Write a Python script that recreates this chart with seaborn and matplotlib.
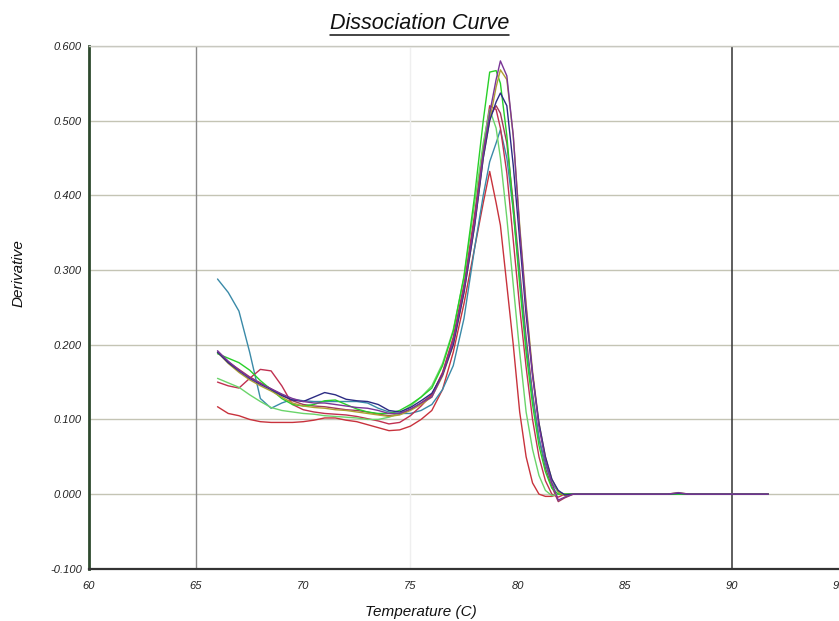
import numpy as np
import pandas as pd
import seaborn as sns
import matplotlib.pyplot as plt
from matplotlib.lines import Line2D

# ── Data ──────────────────────────────────────────────────────────────────────
temperature = [
    66.0, 66.5, 67.0, 67.5, 68.0, 68.5, 69.0, 69.5, 70.0, 70.5,
    71.0, 71.5, 72.0, 72.5, 73.0, 73.5, 74.0, 74.5, 75.0, 75.5,
    76.0, 76.5, 77.0, 77.5, 78.0, 78.4, 78.7, 79.0, 79.2, 79.5,
    79.8, 80.1, 80.4, 80.7, 81.0, 81.3, 81.6, 81.9, 82.2, 82.6,
    83.0, 84.0, 85.0, 86.0, 87.0, 87.5, 88.0, 89.0, 90.0, 91.0,
    91.7,
]

purple = [
    0.192, 0.178, 0.166, 0.156, 0.148, 0.141, 0.134, 0.128, 0.124, 0.122,
    0.122, 0.120, 0.118, 0.116, 0.115, 0.112, 0.108, 0.108, 0.114, 0.122,
    0.130, 0.160, 0.205, 0.275, 0.365, 0.455, 0.510, 0.555, 0.580, 0.560,
    0.480, 0.355, 0.250, 0.160, 0.090, 0.045, 0.015, -0.008, -0.004, 0.000,
    0.000, 0.000, 0.000, 0.000, 0.000, 0.002, 0.000, 0.000, 0.000, 0.000,
    0.000,
]
navy = [
    0.190, 0.176, 0.165, 0.155, 0.147, 0.140, 0.132, 0.126, 0.124, 0.130,
    0.136, 0.133, 0.127, 0.125, 0.124, 0.120, 0.112, 0.110, 0.116, 0.125,
    0.135, 0.160, 0.200, 0.270, 0.360, 0.450, 0.500, 0.525, 0.537, 0.520,
    0.440, 0.340, 0.240, 0.160, 0.095, 0.050, 0.020, 0.005, -0.001, 0.000,
    0.000, 0.000, 0.000, 0.000, 0.000, 0.001, 0.000, 0.000, 0.000, 0.000,
    0.000,
]
olive = [
    0.190, 0.175, 0.163, 0.153, 0.145, 0.138, 0.130, 0.122, 0.118, 0.116,
    0.115, 0.113, 0.112, 0.110, 0.108, 0.106, 0.104, 0.106, 0.112, 0.120,
    0.130, 0.158, 0.200, 0.270, 0.360, 0.450, 0.500, 0.545, 0.568, 0.555,
    0.480, 0.360, 0.255, 0.165, 0.095, 0.050, 0.020, 0.003, -0.002, 0.000,
    0.000, 0.000, 0.000, 0.000, 0.000, 0.002, 0.000, 0.000, 0.000, 0.000,
    0.000,
]
green_a = [
    0.188, 0.182, 0.176, 0.166, 0.152, 0.140, 0.128, 0.120, 0.118, 0.120,
    0.125, 0.126, 0.120, 0.114, 0.110, 0.108, 0.108, 0.112, 0.120, 0.130,
    0.142, 0.172, 0.218, 0.292, 0.400, 0.500, 0.565, 0.567, 0.550, 0.480,
    0.380, 0.280, 0.190, 0.120, 0.065, 0.030, 0.008, 0.000, 0.000, 0.000,
    0.000, 0.000, 0.000, 0.000, 0.000, 0.000, 0.000, 0.000, 0.000, 0.000,
    0.000,
]
green_b = [
    0.155, 0.149, 0.143, 0.133, 0.124, 0.116, 0.112, 0.110, 0.108, 0.107,
    0.105, 0.104, 0.103, 0.102, 0.100, 0.100, 0.103, 0.108, 0.118, 0.130,
    0.145, 0.175, 0.220, 0.290, 0.390, 0.470, 0.515, 0.490, 0.450, 0.370,
    0.280, 0.190, 0.110, 0.060, 0.025, 0.005, -0.002, 0.000, 0.000, 0.000,
    0.000, 0.000, 0.000, 0.000, 0.000, 0.000, 0.000, 0.000, 0.000, 0.000,
    0.000,
]
crimson = [
    0.150, 0.145, 0.142, 0.155, 0.167, 0.165, 0.145, 0.120, 0.113, 0.110,
    0.108, 0.107, 0.106, 0.104, 0.101, 0.098, 0.094, 0.096, 0.105, 0.118,
    0.133, 0.163, 0.210, 0.280, 0.375, 0.465, 0.520, 0.515, 0.490, 0.430,
    0.340, 0.250, 0.170, 0.100, 0.050, 0.018, 0.000, -0.004, 0.000, 0.000,
    0.000, 0.000, 0.000, 0.000, 0.000, 0.000, 0.000, 0.000, 0.000, 0.000,
    0.000,
]
teal = [
    0.288, 0.270, 0.245, 0.190, 0.128, 0.115, 0.122, 0.127, 0.125, 0.124,
    0.124, 0.124, 0.124, 0.124, 0.122, 0.115, 0.110, 0.108, 0.108, 0.112,
    0.120, 0.140, 0.172, 0.235, 0.330, 0.400, 0.445, 0.470, 0.488, 0.450,
    0.380, 0.290, 0.200, 0.130, 0.075, 0.040, 0.015, 0.003, 0.000, 0.000,
    0.000, 0.000, 0.000, 0.000, 0.000, 0.000, 0.000, 0.000, 0.000, 0.000,
    0.000,
]
red = [
    0.117, 0.108, 0.105, 0.100, 0.097, 0.096, 0.096, 0.096, 0.097, 0.099,
    0.102, 0.102, 0.099, 0.097, 0.093, 0.089, 0.085, 0.086, 0.091, 0.100,
    0.112, 0.140, 0.190, 0.255, 0.330, 0.390, 0.432, 0.390, 0.360, 0.280,
    0.200, 0.110, 0.050, 0.015, 0.000, -0.003, -0.003, 0.000, 0.000, 0.000,
    0.000, 0.000, 0.000, 0.000, 0.000, 0.000, 0.000, 0.000, 0.000, 0.000,
    0.000,
]
maroon = [
    0.190, 0.177, 0.167, 0.157, 0.149, 0.141, 0.133, 0.125, 0.120, 0.118,
    0.117, 0.115, 0.113, 0.112, 0.110, 0.107, 0.105, 0.107, 0.113, 0.122,
    0.133, 0.162, 0.207, 0.278, 0.370, 0.460, 0.505, 0.520, 0.510, 0.470,
    0.390, 0.300, 0.210, 0.135, 0.075, 0.035, 0.010, -0.010, -0.005, 0.000,
    0.000, 0.000, 0.000, 0.000, 0.000, 0.000, 0.000, 0.000, 0.000, 0.000,
    0.000,
]

series = {
    "maroon": maroon, "red": red, "teal": teal, "crimson": crimson,
    "green_b": green_b, "green_a": green_a, "olive": olive,
    "navy": navy, "purple": purple,
}
colors = {
    "maroon": "#a03a5a", "red": "#c8323c", "teal": "#3a8aa8",
    "crimson": "#c03050", "green_b": "#6ad46a", "green_a": "#28d028",
    "olive": "#b0a032", "navy": "#2c2c84", "purple": "#7a3596",
}

df = pd.concat(
    [pd.DataFrame({"Temperature": temperature, "Derivative": v, "well": k})
     for k, v in series.items()],
    ignore_index=True,
)

# ── Plot ──────────────────────────────────────────────────────────────────────
sns.set_style("white")
plt.rcParams["font.family"] = ["Liberation Sans", "DejaVu Sans"]

fig = plt.figure(figsize=(8.39, 6.21), dpi=100)
ax = fig.add_axes([0.106, 0.084, 0.894, 0.842])

# grid
for yv in np.arange(-0.1, 0.61, 0.1):
    ax.axhline(yv, color="#c4c4b4", lw=1.0, zorder=0)
ax.axvline(65, color="#8a8a8a", lw=1.0, zorder=0)
ax.axvline(75, color="#efefef", lw=1.0, zorder=0)
ax.axvline(90, color="#333333", lw=1.1, zorder=0)

sns.lineplot(
    data=df, x="Temperature", y="Derivative", hue="well",
    palette=colors, lw=1.0, legend=False, estimator=None, sort=False, ax=ax,
)

ax.set_xlim(60, 95)
ax.set_ylim(-0.1, 0.6)
ax.set_xticks([60, 65, 70, 75, 80, 85, 90, 95])
ax.set_yticks(np.round(np.arange(-0.1, 0.61, 0.1), 1))
ax.set_yticklabels([f"{v:.3f}" for v in np.arange(-0.1, 0.61, 0.1)])
ax.tick_params(axis="x", length=0, pad=9, labelsize=8, colors="#222222")
ax.tick_params(axis="y", length=3, width=0.8, pad=2, labelsize=8, colors="#222222")
for lab in ax.get_xticklabels() + ax.get_yticklabels():
    lab.set_fontstyle("italic")

ax.spines["left"].set_color("#2e4a2e")
ax.spines["left"].set_linewidth(2.0)
ax.spines["bottom"].set_color("#333333")
ax.spines["bottom"].set_linewidth(1.6)
ax.spines["top"].set_color("#c8c8c0")
ax.spines["top"].set_linewidth(1.0)
ax.spines["right"].set_visible(False)

ax.set_xlabel("")
ax.set_ylabel("")
fig.text(0.502, 0.0145, "Temperature (C)", ha="center", va="center",
         fontsize=11, fontstyle="italic", color="#111111")
fig.text(0.022, 0.560, "Derivative", ha="center", va="center", rotation=90,
         fontsize=11, fontstyle="italic", color="#111111")

title = fig.text(0.5, 0.962, "Dissociation Curve", ha="center", va="center",
                 fontsize=15.5, fontstyle="italic", color="#111111")

# underline the title
fig.canvas.draw()
bb = title.get_window_extent().transformed(fig.transFigure.inverted())
fig.add_artist(Line2D([bb.x0, bb.x1], [bb.y0 - 0.001, bb.y0 - 0.001],
                      color="#111111", lw=1.1, transform=fig.transFigure))

fig.savefig("out.png", dpi=100)
